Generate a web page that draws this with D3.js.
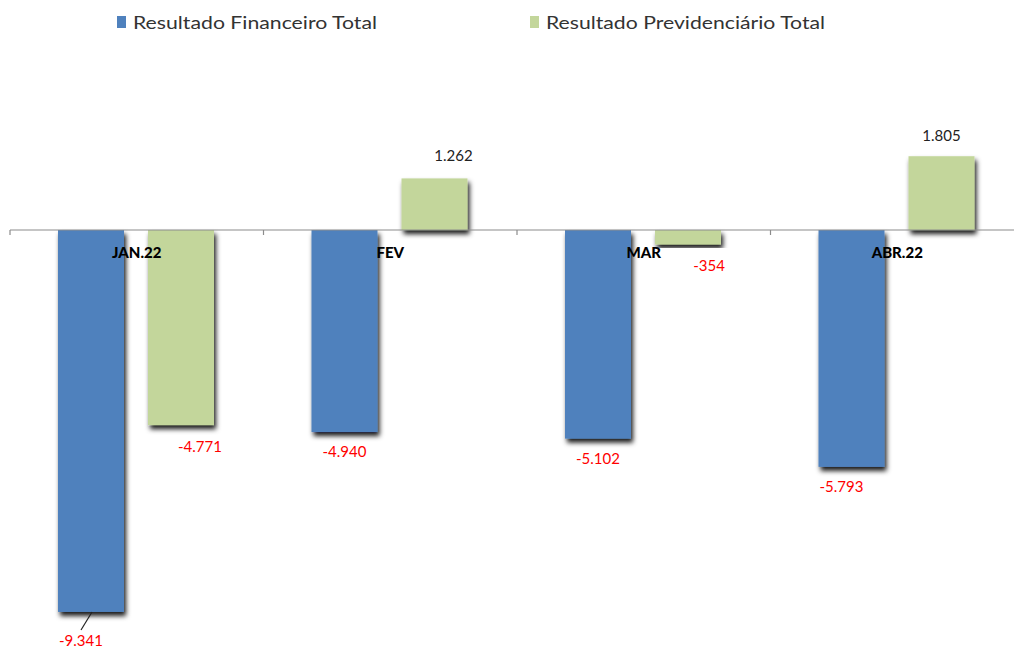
<!DOCTYPE html>
<html><head><meta charset="utf-8">
<script src="https://cdn.jsdelivr.net/npm/d3@7"></script>
<style>body{margin:0;background:#fff;} svg{display:block;font-family:Lato,"Noto Sans",sans-serif;}</style>
</head><body>
<svg id="chart" width="1014" height="650"></svg>
<script>
const categories = ["JAN.22", "FEV", "MAR", "ABR.22"];
const seriesNames = ["Resultado Financeiro Total", "Resultado Previdenciário Total"];
const financeiro = [-9341, -4940, -5102, -5793];
const previdenciario = [-4771, 1262, -354, 1805];
const valueLabels = [["-9.341","-4.940","-5.102","-5.793"],["-4.771","1.262","-354","1.805"]];

const colors = ["#4f81bd", "#c3d69b"];
// manual label nudges (dx, dy) as placed in the original
const labelNudge = [[[-10,29],[0,20],[0,20],[-10,20]],[[19,22],[19,-17],[21,22],[0,-15]]];

const svg = d3.select("#chart");
const defs = svg.append("defs");
const f = defs.append("filter").attr("id","shadow").attr("x","-20%").attr("y","-20%").attr("width","140%").attr("height","140%");
f.append("feDropShadow").attr("dx",2).attr("dy",4).attr("stdDeviation",2.8).attr("flood-color","#000").attr("flood-opacity",0.9);

const x0 = d3.scaleBand().domain(categories).range([10, 1024]).padding(0);
const x1 = d3.scaleBand().domain([0,1]).range([48, 204]).paddingInner(0.2667).paddingOuter(0);
const y = d3.scaleLinear().domain([-10000, 2500]).range([638.9, 127.8]);

const series = [financeiro, previdenciario];

// bars
series.forEach((vals, si) => {
  svg.append("g").selectAll("rect").data(vals).join("rect")
    .attr("x", (d,i) => x0(categories[i]) + x1(si))
    .attr("width", x1.bandwidth())
    .attr("y", d => Math.min(y(d), y(0)))
    .attr("height", d => Math.abs(y(d) - y(0)))
    .attr("fill", colors[si])
    .attr("filter", "url(#shadow)");
});

// axis line and ticks
const axisG = svg.append("g").attr("transform", `translate(0,${y(0)})`);
axisG.append("line").attr("x1",10).attr("x2",1014).attr("y1",0).attr("y2",0).attr("stroke","#8c8c8c").attr("stroke-width",1.2);
axisG.selectAll("line.tick").data(categories).join("line").attr("class","tick")
  .attr("x1", d => x0(d)).attr("x2", d => x0(d)).attr("y1",0).attr("y2",5)
  .attr("stroke","#8c8c8c").attr("stroke-width",1.2);

// category labels
svg.append("g").selectAll("text").data(categories).join("text")
  .attr("x", d => x0(d) + x0.bandwidth()/2)
  .attr("y", y(0) + 28)
  .attr("text-anchor","middle")
  .attr("font-weight","900")
  .attr("font-size",15)
  .attr("fill","#000")
  .text(d => d);

// value labels
series.forEach((vals, si) => {
  svg.append("g").selectAll("text").data(vals).join("text")
    .attr("x", (d,i) => x0(categories[i]) + x1(si) + x1.bandwidth()/2 + labelNudge[si][i][0])
    .attr("y", (d,i) => y(d) + labelNudge[si][i][1] + (d < 0 ? 5 : 0))
    .attr("text-anchor","middle")
    .attr("font-size",15)
    .attr("fill", d => d < 0 ? "#ff0000" : "#222")
    .text((d,i) => valueLabels[si][i]);
});

// leader line for first label
const lx = x0(categories[0]) + x1(0) + x1.bandwidth()/2;
svg.append("line").attr("x1", lx + 1).attr("y1", y(financeiro[0])).attr("x2", lx - 10).attr("y2", y(financeiro[0]) + 18)
  .attr("stroke","#222").attr("stroke-width",1.2);

// legend
const legend = svg.append("g");
const legX = [117, 530];
const legW = [244, 279];
seriesNames.forEach((n, i) => {
  legend.append("rect").attr("x", legX[i]).attr("y", 16).attr("width", 9).attr("height", 12).attr("fill", colors[i]);
  legend.append("text").attr("x", legX[i] + 16).attr("y", 29).attr("font-size", 18)
    .attr("textLength", legW[i]).attr("lengthAdjust","spacingAndGlyphs")
    .attr("fill","#333").text(n);
});
</script>
</body></html>
